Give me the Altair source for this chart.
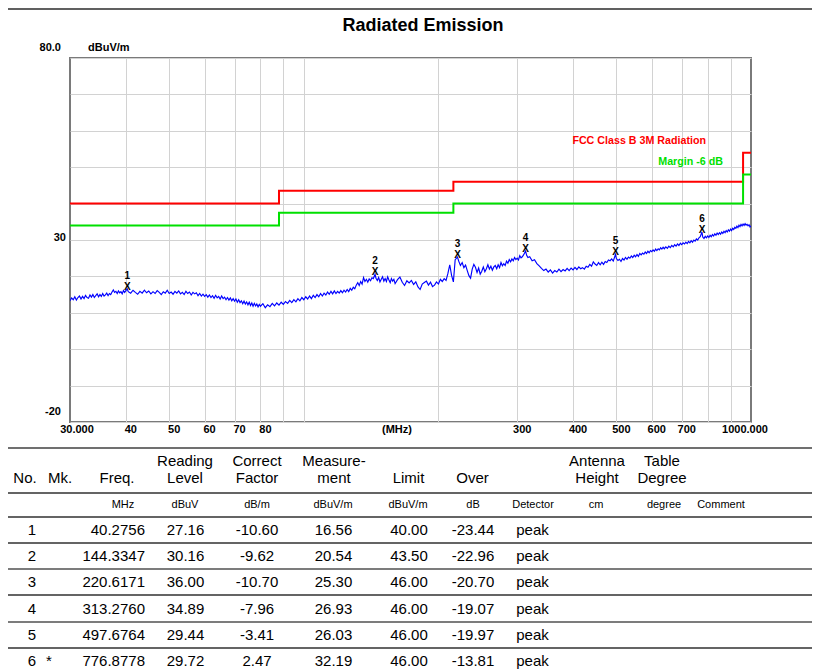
import altair as alt
import pandas as pd

# ---------------- values ----------------
# measured trace (frequency MHz, level dBuV/m), read along the blue curve
trace_30_40 = [
    (30.00, 13.3), (30.25, 14.1), (30.50, 13.6), (30.75, 14.4), (31.00, 13.5), (31.25, 14.2), (31.50, 14.6),
    (31.75, 13.8), (32.00, 14.5), (32.25, 13.9), (32.50, 14.8), (32.75, 14.2), (33.00, 14.0), (33.25, 14.9),
    (33.50, 14.3), (33.75, 15.0), (34.00, 14.2), (34.25, 14.7), (34.50, 15.2), (34.75, 14.4), (35.00, 15.0),
    (35.25, 14.5), (35.50, 15.3), (35.75, 14.6), (36.00, 14.9), (36.25, 15.4), (36.50, 14.7), (36.75, 15.3),
    (37.00, 15.0), (37.25, 15.7), (37.50, 16.3), (37.75, 15.6), (38.00, 15.9), (38.25, 15.3), (38.50, 16.0),
    (38.75, 15.5), (39.00, 15.8), (39.25, 15.2), (39.50, 16.1), (39.75, 15.6),
]
trace_40_80 = [
    (40.0, 16.1), (40.28, 16.56), (40.5, 15.8), (41.0, 15.4), (41.5, 16.2), (42.0, 15.6), (42.5, 15.1),
    (43.0, 15.9), (43.5, 15.4), (44.0, 16.2), (44.5, 15.5), (45.0, 16.0), (45.5, 15.2), (46.0, 15.8),
    (46.5, 15.3), (47.0, 16.1), (47.5, 15.6), (48.0, 15.0), (48.5, 15.8), (49.0, 15.4), (49.5, 16.2),
    (50.0, 15.3), (50.5, 15.7), (51.0, 15.1), (51.5, 15.9), (52.0, 15.4), (52.5, 16.0), (53.0, 15.2),
    (53.5, 15.6), (54.0, 15.0), (54.5, 15.9), (55.0, 15.3), (55.5, 15.7), (56.0, 14.9), (56.5, 15.6),
    (57.0, 15.2), (57.5, 15.5), (58.0, 14.7), (58.5, 15.3), (59.0, 14.6), (59.5, 15.1), (60.0, 14.5),
    (60.5, 15.0), (61.0, 14.3), (61.5, 14.9), (62.0, 14.2), (62.5, 14.7), (63.0, 14.0), (63.5, 14.8),
    (64.0, 14.1), (64.5, 14.5), (65.0, 13.8), (65.5, 14.6), (66.0, 13.9), (66.5, 14.3), (67.0, 13.6),
    (67.5, 14.2), (68.0, 13.5), (68.5, 14.1), (69.0, 13.3), (69.5, 13.9), (70.0, 13.2), (70.5, 13.8),
    (71.0, 12.9), (71.5, 13.6), (72.0, 12.8), (72.5, 13.3), (73.0, 12.5), (73.5, 13.2), (74.0, 12.4),
    (74.5, 13.0), (75.0, 12.2), (75.5, 12.9), (76.0, 12.0), (76.5, 12.7), (77.0, 11.8), (77.5, 12.6),
    (78.0, 11.9), (78.5, 12.4), (79.0, 11.6), (79.5, 12.3),
]
trace_80_160 = [
    (80, 11.8), (81, 12.5), (82, 11.4), (83, 12.2), (84, 11.7), (85, 12.6), (86, 11.9), (87, 12.7),
    (88, 12.1), (89, 12.9), (90, 12.3), (91, 13.1), (92, 12.6), (93, 13.4), (94, 12.8), (95, 13.6),
    (96, 13.0), (97, 13.9), (98, 13.3), (99, 14.2), (100, 13.6), (101, 14.4), (102, 13.8), (103, 14.6),
    (104, 13.9), (105, 14.8), (106, 14.2), (107, 15.0), (108, 14.4), (109, 15.3), (110, 14.6), (111, 15.4),
    (112, 14.9), (113, 15.7), (114, 15.1), (115, 15.9), (116, 15.2), (117, 16.0), (118, 15.3), (119, 15.9),
    (120, 15.4), (121, 16.1), (122, 15.5), (123, 16.2), (124, 15.7), (125, 16.4), (126, 15.8), (127, 16.7),
    (128, 16.2), (129, 17.0), (130, 16.6), (131, 17.6), (132, 18.3), (133, 17.5), (134, 18.6), (135, 17.9),
    (136, 19.7), (137, 18.6), (138, 19.2), (139, 18.4), (140, 19.3), (141, 18.8), (142, 19.6), (143, 19.4),
    (144.33, 20.54), (145, 19.5), (146, 18.9), (147, 19.7), (148, 18.5), (149, 19.2), (150, 19.9),
    (151, 18.7), (152, 19.4), (153, 18.6), (154, 19.9), (155, 19.0), (156, 18.3), (157, 19.4), (158, 18.7),
    (159, 19.2),
]
trace_160_320 = [
    (160, 18.0), (162, 19.1), (164, 19.8), (166, 18.4), (168, 17.5), (170, 18.8), (172, 18.2), (174, 18.9),
    (176, 17.8), (178, 18.5), (180, 17.1), (182, 16.4), (184, 17.9), (186, 18.3), (188, 18.7), (190, 17.6),
    (192, 18.4), (194, 17.2), (196, 17.6), (198, 18.5), (200, 17.9), (202, 19.2), (204, 18.6), (206, 19.4),
    (208, 18.9), (210, 20.8), (212, 23.2), (214, 20.3), (216, 18.5), (218, 24.6), (220.62, 25.30),
    (222, 24.2), (224, 23.0), (226, 23.8), (228, 22.4), (230, 23.1), (232, 21.6), (234, 20.2), (236, 19.5),
    (238, 22.0), (240, 23.3), (242, 22.5), (244, 21.1), (246, 22.3), (248, 20.6), (250, 21.4), (252, 22.6),
    (254, 21.3), (256, 22.1), (258, 23.2), (260, 22.0), (262, 22.8), (264, 21.7), (266, 22.6), (268, 23.0),
    (270, 22.1), (272, 23.2), (274, 22.4), (276, 23.8), (278, 22.9), (280, 23.5), (282, 23.0), (284, 24.2),
    (286, 23.6), (288, 24.6), (290, 24.0), (292, 24.8), (294, 24.3), (296, 25.2), (298, 24.6), (300, 25.0),
    (302, 24.5), (304, 25.7), (306, 25.1), (308, 25.4), (310, 25.9), (313.28, 26.93), (315, 25.8),
    (317, 25.2),
]
trace_320_640 = [
    (320, 25.4), (324, 24.3), (328, 24.6), (332, 23.5), (336, 22.9), (340, 22.2), (344, 21.6), (348, 22.0),
    (352, 21.2), (356, 21.8), (360, 20.9), (364, 21.6), (368, 21.2), (372, 22.0), (376, 21.3), (380, 21.9),
    (384, 21.5), (388, 22.2), (392, 21.6), (396, 22.3), (400, 21.8), (404, 22.5), (408, 21.9), (412, 22.6),
    (416, 22.1), (420, 22.4), (424, 22.0), (428, 22.8), (432, 22.5), (436, 23.3), (440, 22.8), (444, 24.0),
    (448, 23.4), (452, 23.0), (456, 23.8), (460, 23.2), (464, 23.9), (468, 23.3), (472, 24.1), (476, 23.8),
    (480, 24.5), (484, 24.3), (488, 24.8), (492, 24.2), (497.68, 26.03), (500, 24.9), (504, 24.4),
    (508, 24.7), (512, 24.1), (516, 24.9), (520, 24.5), (524, 25.2), (528, 24.7), (532, 25.3), (536, 25.0),
    (540, 25.6), (544, 25.2), (548, 25.8), (552, 25.4), (556, 26.0), (560, 25.5), (564, 26.3), (568, 25.9),
    (572, 26.4), (576, 26.1), (580, 26.7), (584, 26.3), (588, 26.9), (592, 26.5), (596, 27.1), (600, 26.8),
    (604, 27.3), (608, 26.9), (612, 27.5), (616, 27.1), (620, 27.6), (624, 27.3), (628, 27.9), (632, 27.5),
    (636, 28.0),
]
trace_640_1000 = [
    (640, 27.6), (645, 28.1), (650, 27.7), (655, 28.3), (660, 27.9), (665, 28.5), (670, 28.1), (675, 28.7),
    (680, 28.3), (685, 28.9), (690, 28.5), (695, 29.1), (700, 28.7), (705, 29.2), (710, 28.9), (715, 29.4),
    (720, 29.0), (725, 29.6), (730, 29.2), (735, 29.8), (740, 29.4), (745, 30.0), (750, 29.7), (755, 30.3),
    (760, 30.0), (765, 30.6), (770, 30.9), (776.88, 32.19), (780, 30.8), (785, 30.4), (790, 31.0),
    (795, 30.6), (800, 31.1), (805, 30.7), (810, 31.3), (815, 30.9), (820, 31.5), (825, 31.1), (830, 31.7),
    (835, 31.3), (840, 31.9), (845, 31.5), (850, 32.0), (855, 31.6), (860, 32.2), (865, 31.8), (870, 32.4),
    (875, 32.0), (880, 32.6), (885, 32.2), (890, 32.8), (895, 32.4), (900, 33.0), (905, 32.6), (910, 33.2),
    (915, 32.9), (920, 33.5), (925, 33.2), (930, 33.8), (935, 33.4), (940, 34.1), (945, 33.7), (950, 34.3),
    (955, 33.9), (960, 34.4), (965, 34.0), (970, 34.5), (975, 34.1), (980, 34.3), (985, 33.9), (990, 34.2),
    (995, 33.6), (1000, 33.9),
]

limit_freq = [30, 88, 216, 960, 1000]
limit_fcc = [40.0, 43.5, 46.0, 54.0, 54.0]
limit_margin = [34.0, 37.5, 40.0, 48.0, 48.0]

mk_no = ["1", "2", "3", "4", "5", "6"]
mk_flag = ["", "", "", "", "", "*"]
mk_freq = [40.2756, 144.3347, 220.6171, 313.2760, 497.6764, 776.8778]
mk_reading = [27.16, 30.16, 36.00, 34.89, 29.44, 29.72]
mk_correct = [-10.60, -9.62, -10.70, -7.96, -3.41, 2.47]
mk_measure = [16.56, 20.54, 25.30, 26.93, 26.03, 32.19]
mk_limit = [40.00, 43.50, 46.00, 46.00, 46.00, 46.00]
mk_over = [-23.44, -22.96, -20.70, -19.07, -19.97, -13.81]
mk_detector = ["peak", "peak", "peak", "peak", "peak", "peak"]

x_label_values = [30, 40, 50, 60, 70, 80, 300, 400, 500, 600, 700, 1000]
x_label_texts = ["30.000", "40", "50", "60", "70", "80", "300", "400", "500", "600", "700", "1000.000"]
x_grid_values = [40, 50, 60, 70, 80, 90, 100, 200, 300, 400, 500, 600, 700, 800, 900]
y_grid_values = [-20, -10, 0, 10, 20, 30, 40, 50, 60, 70, 80]
y_label_values = [80, 30, -20]
y_label_texts = ["80.0", "30", "-20"]

title_text = "Radiated Emission"
y_unit_text = "dBuV/m"
x_unit_text = "(MHz)"
limit_name = "FCC Class B 3M Radiation"
margin_name = "Margin -6 dB"

hdr_line1 = ["", "", "", "Reading", "Correct", "Measure-", "", "", "", "Antenna", "Table", ""]
hdr_line2 = ["No.", "Mk.", "Freq.", "Level", "Factor", "ment", "Limit", "Over", "", "Height", "Degree", ""]
hdr_units = ["", "", "MHz", "dBuV", "dB/m", "dBuV/m", "dBuV/m", "dB", "Detector", "cm", "degree", "Comment"]

# ---------------- layout / style ----------------
W, H = 681, 364
FONT = "Liberation Sans"
RED = "#ff0000"
GREEN = "#00e000"
BLUE = "#0000ff"
GRID = "#d2d2d2"

hdr_x = [-45, -10, 47, 115, 187, 264, 338.5, 402.5, 463, 527, 592, 651]
units_x = [-45, -10, 53, 115, 187, 263, 338, 403, 463, 526, 594, 651]
hdr_y1, hdr_y2, units_y = 403, 420, 447
table_rules = [(390, "#707070", 2.0), (435, "#303030", 1.4), (459, "#303030", 1.4), (485, "#303030", 1.4),
               (511, "#505050", 1.4), (537, "#303030", 1.4), (564, "#505050", 1.4), (590, "#303030", 1.4)]

x_scale = alt.Scale(type="log", domain=[30, 1000], nice=False)
y_scale = alt.Scale(domain=[-20, 80], nice=False, zero=False)
x_axis = alt.Axis(values=x_grid_values, grid=True, labels=False, ticks=False, domain=False,
                  title=None, gridColor=GRID, gridWidth=1)
y_axis = alt.Axis(values=y_grid_values, grid=True, labels=False, ticks=False, domain=False,
                  title=None, gridColor=GRID, gridWidth=1)


def X(field):
    return alt.X(f"{field}:Q", scale=x_scale, axis=x_axis)


def Y(field):
    return alt.Y(f"{field}:Q", scale=y_scale, axis=y_axis)


def one(text):
    return pd.DataFrame({"t": [text]})


trace_points = trace_30_40 + trace_40_80 + trace_80_160 + trace_160_320 + trace_320_640 + trace_640_1000
df_trace = pd.DataFrame(trace_points, columns=["f", "lv"])
df_lim = pd.DataFrame({"f": limit_freq, "fcc": limit_fcc, "mg": limit_margin})
df_mk = pd.DataFrame({"f": mk_freq, "m": mk_measure, "no": mk_no})
df_xl = pd.DataFrame({"v": x_label_values, "t": x_label_texts})
df_yl = pd.DataFrame({"v": y_label_values, "t": y_label_texts})

plot_layers = []
plot_layers.append(
    alt.Chart(df_lim).mark_line(interpolate="step-after", color=RED, strokeWidth=2)
    .encode(x=X("f"), y=Y("fcc")))
plot_layers.append(
    alt.Chart(df_lim).mark_line(interpolate="step-after", color=GREEN, strokeWidth=2)
    .encode(x=X("f"), y=Y("mg")))
plot_layers.append(
    alt.Chart(df_trace).mark_line(color=BLUE, strokeWidth=1.15, clip=True)
    .encode(x=X("f"), y=Y("lv")))
plot_layers.append(
    alt.Chart(df_mk).mark_text(text="X", font=FONT, fontSize=10, fontWeight="bold", color="black",
                               baseline="middle", dy=-2)
    .encode(x=X("f"), y=Y("m")))
plot_layers.append(
    alt.Chart(df_mk).mark_text(font=FONT, fontSize=10, fontWeight="bold", color="black",
                               baseline="middle", dy=-13)
    .encode(x=X("f"), y=Y("m"), text="no:N"))

# x tick labels
lab_style = dict(font=FONT, fontSize=11, fontWeight="bold", color="black", baseline="middle")
plot_layers.append(
    alt.Chart(df_xl).transform_filter("datum.v > 30 && datum.v < 1000")
    .mark_text(align="center", dx=5, **lab_style)
    .encode(x=X("v"), y=alt.value(H + 8), text="t:N"))
plot_layers.append(
    alt.Chart(df_xl).transform_filter("datum.v == 30")
    .mark_text(align="center", dx=7, **lab_style)
    .encode(x=X("v"), y=alt.value(H + 8), text="t:N"))
plot_layers.append(
    alt.Chart(df_xl).transform_filter("datum.v == 1000")
    .mark_text(align="center", dx=-6, **lab_style)
    .encode(x=X("v"), y=alt.value(H + 8), text="t:N"))
plot_layers.append(
    alt.Chart(one(x_unit_text)).mark_text(align="center", **lab_style)
    .encode(x=alt.value(327), y=alt.value(H + 8), text="t:N"))
# y tick labels
plot_layers.append(
    alt.Chart(df_yl).transform_filter("datum.v != 30")
    .mark_text(align="right", dy=-10, **lab_style)
    .encode(x=alt.value(-9), y=Y("v"), text="t:N"))
plot_layers.append(
    alt.Chart(df_yl).transform_filter("datum.v == 30")
    .mark_text(align="right", dy=-2, **lab_style)
    .encode(x=alt.value(-4), y=Y("v"), text="t:N"))
plot_layers.append(
    alt.Chart(one(y_unit_text)).mark_text(align="left", **lab_style)
    .encode(x=alt.value(18), y=alt.value(-10), text="t:N"))
# limit names
plot_layers.append(
    alt.Chart(one(limit_name)).mark_text(align="right", font=FONT, fontSize=10.7, fontWeight="bold",
                                         color=RED, baseline="middle")
    .encode(x=alt.value(636), y=alt.value(83), text="t:N"))
plot_layers.append(
    alt.Chart(one(margin_name)).mark_text(align="right", font=FONT, fontSize=10.7, fontWeight="bold",
                                          color=GREEN, baseline="middle")
    .encode(x=alt.value(653), y=alt.value(104), text="t:N"))
# title and frame line
plot_layers.append(
    alt.Chart(one(title_text)).mark_text(align="center", font=FONT, fontSize=18, fontWeight="bold",
                                         color="black", baseline="middle")
    .encode(x=alt.value(353), y=alt.value(-32), text="t:N"))
plot_layers.append(
    alt.Chart(one("")).mark_rule(color="#606060", strokeWidth=2)
    .encode(x=alt.value(-62), x2=alt.value(742), y=alt.value(-49)))

plot = alt.layer(*plot_layers)

# ---------------- table ----------------
df_tab = pd.DataFrame({
    "row": [1, 2, 3, 4, 5, 6],
    "no": mk_no,
    "mk": mk_flag,
    "freq": [f"{v:.4f}" for v in mk_freq],
    "read": [f"{v:.2f}" for v in mk_reading],
    "corr": [f"{v:.2f}" for v in mk_correct],
    "meas": [f"{v:.2f}" for v in mk_measure],
    "lim": [f"{v:.2f}" for v in mk_limit],
    "over": [f"{v:.2f}" for v in mk_over],
    "det": mk_detector,
})
row_scale = alt.Scale(type="point", domain=[1, 2, 3, 4, 5, 6], range=[472, 603], padding=0)
col_spec = [("no", -38, "center"), ("mk", -21, "center"), ("freq", 75, "right"),
            ("read", 115.5, "center"), ("corr", 187, "center"), ("meas", 263.5, "center"),
            ("lim", 339, "center"), ("over", 403, "center"), ("det", 462.5, "center")]

table_layers = []
for col, cx, al in col_spec:
    table_layers.append(
        alt.Chart(df_tab).mark_text(font=FONT, fontSize=15, align=al, baseline="middle", color="black")
        .encode(x=alt.value(cx), y=alt.Y("row:O", scale=row_scale, axis=None), text=f"{col}:N"))

deco = []
for texts, xs, yy, fs in [(hdr_line1, hdr_x, hdr_y1, 15), (hdr_line2, hdr_x, hdr_y2, 15),
                          (hdr_units, units_x, units_y, 11)]:
    for t, cx in zip(texts, xs):
        if t:
            deco.append(
                alt.Chart(one(t)).mark_text(font=FONT, fontSize=fs, align="center", baseline="middle",
                                            color="black")
                .encode(x=alt.value(cx), y=alt.value(yy), text="t:N"))
for ry, col, sw in table_rules:
    deco.append(
        alt.Chart(one("")).mark_rule(color=col, strokeWidth=sw)
        .encode(x=alt.value(-62), x2=alt.value(742), y=alt.value(ry)))

table = alt.layer(*table_layers, *deco)

chart = (
    alt.layer(plot, table)
    .resolve_scale(y="independent")
    .properties(width=W, height=H,
                padding={"left": 62, "top": 50, "right": 61, "bottom": 249},
                autosize=alt.AutoSizeParams(type="none"), background="white")
    .configure_view(stroke="#7a7a7a", strokeWidth=2)
)

chart.save("out.html", embed_options={"renderer": "svg", "actions": False})
